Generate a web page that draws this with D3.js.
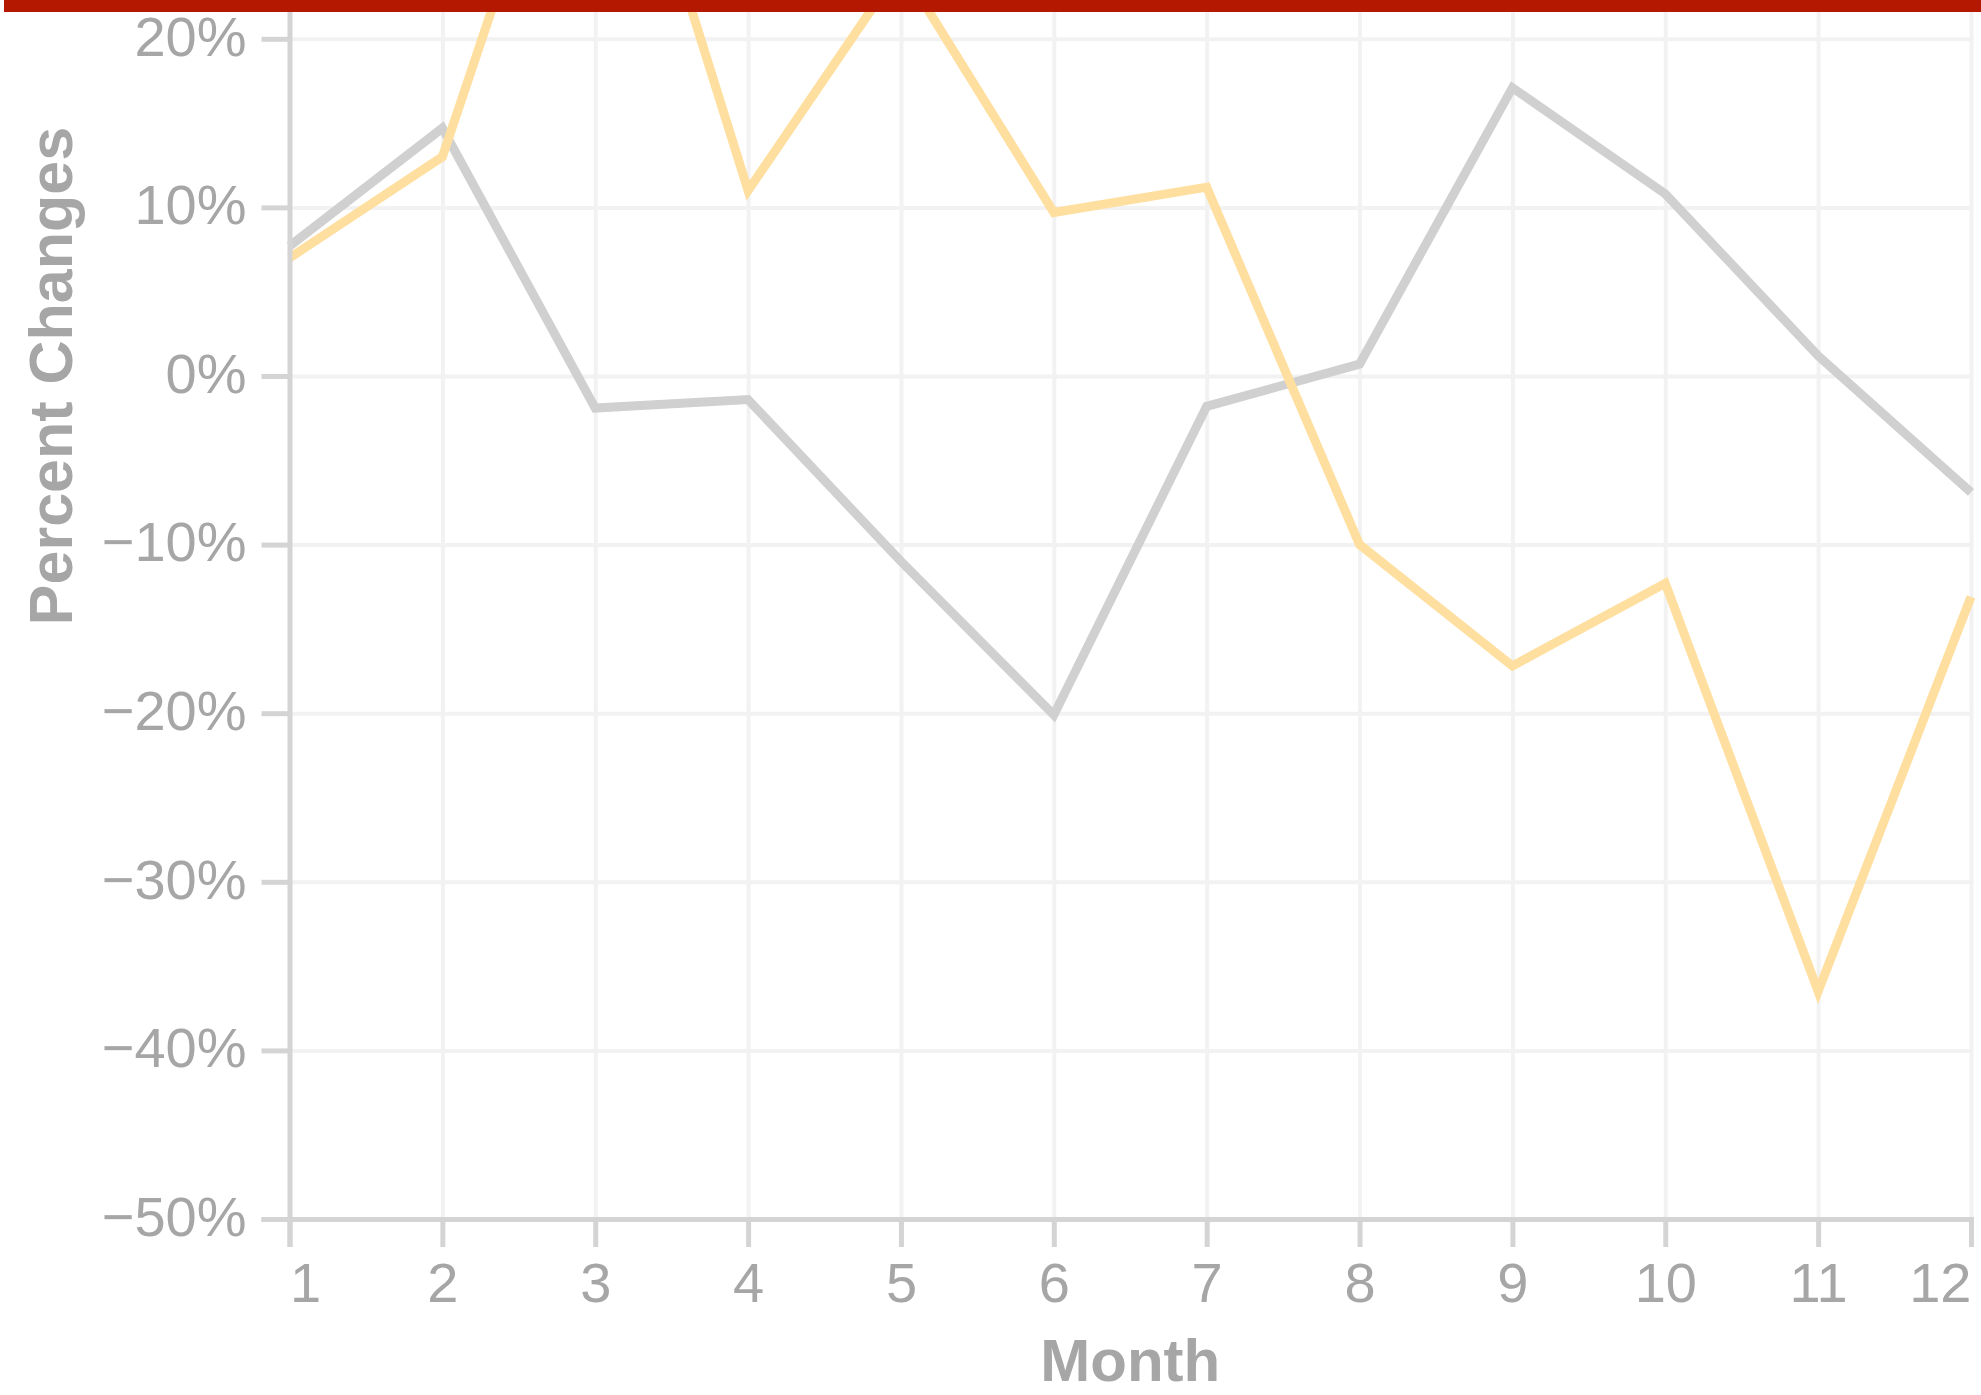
<!DOCTYPE html>
<html lang="en">
<head>
  <meta charset="UTF-8" />
  <title>Percent Changes by Month</title>
  <script src="https://d3js.org/d3.v7.min.js"></script>
  <style>
    body { margin: 0; background: #fff; }
    svg { display: block; font-family: 'Liberation Sans', Arial, Helvetica, sans-serif; }
  </style>
</head>
<body>
  <svg id="chart" width="1981" height="1395"></svg>
  <script>
    // data (percent changes per month)
    const months = [1, 2, 3, 4, 5, 6, 7, 8, 9, 10, 11, 12];
    const grayValues = [0.077, 0.147, -0.019, -0.014, -0.110, -0.201, -0.018, 0.007, 0.171, 0.108, 0.012, -0.069];
    const yellowValues = [0.070, 0.130, 0.400, 0.110, 0.243, 0.097, 0.112, -0.100, -0.172, -0.123, -0.365, -0.131];
    // only the ticks that are visible in the cropped view
    const yTicks = [-0.5, -0.4, -0.3, -0.2, -0.1, 0, 0.1, 0.2];

    const svg = d3.select("#chart");
    const W = 1981, H = 1395;

    // plot box (its top runs above the visible area, the picture is cropped)
    const plotLeft = 289.5, plotRight = 1971, plotBottom = 1219, plotTop = -467;
    const textColor = "#a6a6a6";
    const axisColor = "#d4d4d4";
    const gridColor = "#f2f2f2";

    const x = d3.scaleLinear().domain([1, 12]).range([plotLeft, plotRight]);
    const y = d3.scaleLinear().domain([-0.5, 0.5]).range([plotBottom, plotTop]);

    // grid lines
    svg.append("g")
      .attr("transform", `translate(0,${plotBottom})`)
      .call(d3.axisBottom(x).tickValues(months).tickSize(-(plotBottom - plotTop)).tickFormat(""))
      .call(g => g.select(".domain").remove())
      .selectAll("line").attr("stroke", gridColor).attr("stroke-width", 4);

    svg.append("g")
      .attr("transform", `translate(${plotLeft},0)`)
      .call(d3.axisLeft(y).tickValues(yTicks).tickSize(-(plotRight - plotLeft)).tickFormat(""))
      .call(g => g.select(".domain").remove())
      .selectAll("line").attr("stroke", gridColor).attr("stroke-width", 4);

    // lines
    const line = vals => d3.line()
      .x((d, i) => x(months[i]))
      .y(d => y(d))(vals);

    svg.append("path")
      .attr("d", line(grayValues))
      .attr("fill", "none")
      .attr("stroke", "#d0d0d0")
      .attr("stroke-width", 9);

    svg.append("path")
      .attr("d", line(yellowValues))
      .attr("fill", "none")
      .attr("stroke", "#ffdfa0")
      .attr("stroke-width", 9);

    // y axis
    const yAxis = svg.append("g")
      .attr("transform", `translate(${plotLeft},0)`)
      .call(d3.axisLeft(y).tickValues(yTicks).tickSize(28).tickPadding(15).tickFormat(d3.format(".0%")));
    yAxis.select(".domain").attr("stroke", axisColor).attr("stroke-width", 5);
    yAxis.selectAll(".tick line").attr("stroke", axisColor).attr("stroke-width", 5);
    yAxis.selectAll(".tick text")
      .attr("fill", textColor)
      .attr("font-size", 56)
      .attr("font-family", "'Liberation Sans', Arial, sans-serif")
      .attr("dy", "0.29em");

    // x axis, first and last labels flush with the ends
    const xAxis = svg.append("g")
      .attr("transform", `translate(0,${plotBottom})`)
      .call(d3.axisBottom(x).tickValues(months).tickSize(28).tickPadding(15).tickFormat(d3.format("d")));
    xAxis.select(".domain").attr("stroke", axisColor).attr("stroke-width", 5);
    xAxis.selectAll(".tick line").attr("stroke", axisColor).attr("stroke-width", 5);
    xAxis.selectAll(".tick text")
      .attr("fill", textColor)
      .attr("font-size", 56)
      .attr("font-family", "'Liberation Sans', Arial, sans-serif")
      .attr("dy", "0.71em")
      .attr("text-anchor", (d, i) => i === 0 ? "start" : i === months.length - 1 ? "end" : "middle");

    // axis titles
    svg.append("text")
      .attr("x", (plotLeft + plotRight) / 2)
      .attr("y", 1381)
      .attr("text-anchor", "middle")
      .attr("font-size", 60)
      .attr("font-weight", "bold")
      .attr("fill", textColor)
      .text("Month");

    svg.append("text")
      .attr("transform", `translate(72,${(plotTop + plotBottom) / 2}) rotate(-90)`)
      .attr("text-anchor", "middle")
      .attr("font-size", 61)
      .attr("font-weight", "bold")
      .attr("fill", textColor)
      .text("Percent Changes");

    // red band across the top
    svg.append("rect")
      .attr("x", 4).attr("y", 0)
      .attr("width", W - 4).attr("height", 12)
      .attr("fill", "#b41800");
  </script>
</body>
</html>
